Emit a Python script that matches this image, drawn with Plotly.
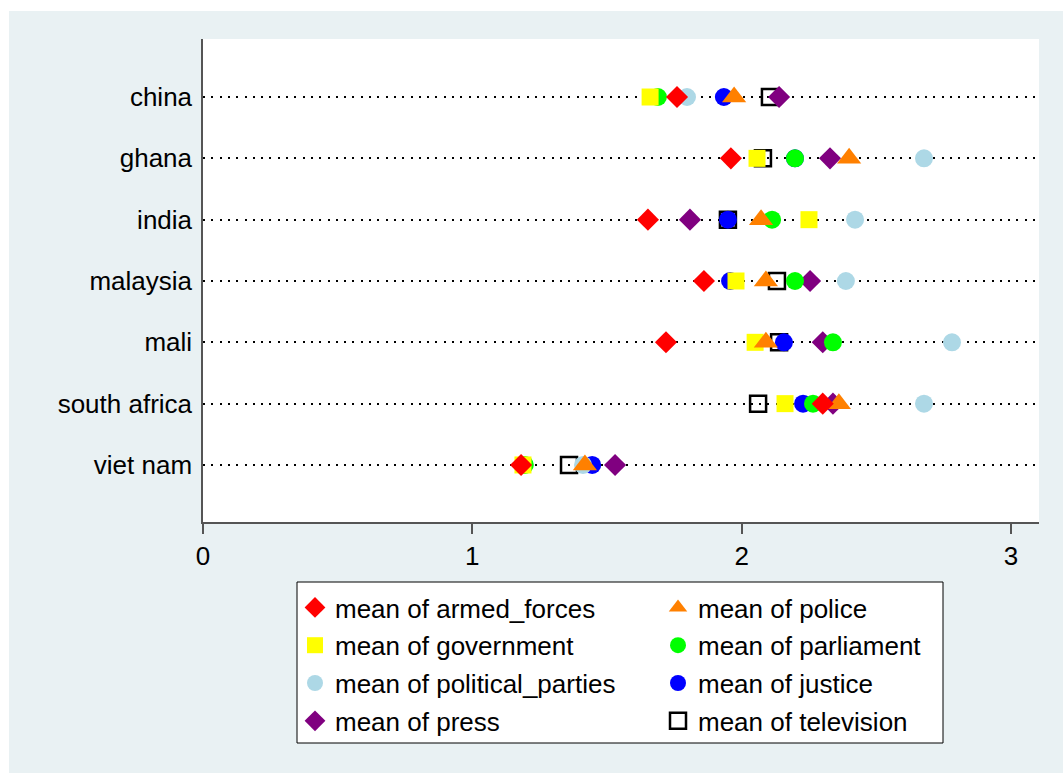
import plotly.graph_objects as go

# Countries, top to bottom
countries = ["china", "ghana", "india", "malaysia", "mali", "south africa", "viet nam"]

# Mean confidence scores per institution
armed_forces = [1.760, 1.960, 1.652, 1.860, 1.719, 2.301, 1.181]
police = [1.972, 2.399, 2.072, 2.090, 2.090, 2.361, 1.418]
government = [1.660, 2.057, 2.250, 1.979, 2.050, 2.161, 1.188]
parliament = [1.689, 2.198, 2.113, 2.198, 2.339, 2.265, 1.195]
political_parties = [1.797, 2.677, 2.421, 2.387, 2.781, 2.677, 1.411]
justice = [1.934, 2.198, 1.949, 1.957, 2.157, 2.228, 1.445]
press = [2.139, 2.328, 1.808, 2.254, 2.301, 2.339, 1.530]
television = [2.105, 2.079, 1.949, 2.131, 2.139, 2.061, 1.359]

x_ticks = [0, 1, 2, 3]

# Page geometry (px)
W, H = 1063, 773
ML, MR, MT, MB = 203, 24, 39, 251
PW = W - ML - MR
PH = H - MT - MB


def px_x(px):
    return (px - ML) / PW


def px_y(py):
    return (H - MB - py) / PH


FONT = "Liberation Sans, Arial, sans-serif"
FS = 26
BG = "#E9F1F3"
AXC = "#555555"

# (label, values, symbol, color, size, legend, rank) - drawn in this order
series = [
    ("television", television, "square-open", "black", 16, "legend2", 4),
    ("press", press, "diamond", "#800080", 17, "legend", 4),
    ("justice", justice, "circle", "#0000FF", 18, "legend2", 3),
    ("political_parties", political_parties, "circle", "#ADD8E6", 18, "legend", 3),
    ("parliament", parliament, "circle", "#00FF00", 18, "legend2", 2),
    ("government", government, "square", "#FFFF00", 17, "legend", 2),
    ("police", police, "triangle-up", "#FF8000", 21, "legend2", 1),
    ("armed_forces", armed_forces, "diamond", "#FF0000", 17, "legend", 1),
]

fig = go.Figure()
ypos = list(range(len(countries)))
for name, vals, sym, col, size, leg, rank in series:
    marker = dict(symbol=sym, color=col, size=size)
    if sym.endswith("open"):
        marker["line"] = dict(color=col, width=2.5)
    else:
        marker["line"] = dict(width=0)
    fig.add_trace(go.Scatter(
        x=vals, y=ypos, mode="markers", name="mean of " + name,
        marker=marker, legend=leg, legendrank=rank, legendgroup=name,
        hoverinfo="x+name",
    ))

shapes = [
    # thin white page border on top and left
    dict(type="rect", xref="paper", yref="paper", layer="below",
         x0=px_x(0), x1=px_x(9), y0=px_y(H), y1=px_y(0),
         fillcolor="white", line=dict(width=0)),
    dict(type="rect", xref="paper", yref="paper", layer="below",
         x0=px_x(0), x1=px_x(W), y0=px_y(11), y1=px_y(0),
         fillcolor="white", line=dict(width=0)),
    # legend frame
    dict(type="rect", xref="paper", yref="paper", layer="below",
         x0=px_x(297), x1=px_x(943), y0=px_y(743), y1=px_y(582),
         fillcolor="white", line=dict(color="black", width=1)),
]

legend_common = dict(
    bgcolor="rgba(0,0,0,0)", borderwidth=0, orientation="v",
    font=dict(family=FONT, size=FS, color="black"),
    traceorder="grouped", tracegroupgap=1, itemsizing="trace",
    xanchor="left", yanchor="top", xref="paper", yref="paper",
)

fig.update_layout(
    width=W, height=H, autosize=False,
    margin=dict(l=ML, r=MR, t=MT, b=MB, pad=0),
    paper_bgcolor=BG, plot_bgcolor="white",
    font=dict(family=FONT, size=FS, color="black"),
    shapes=shapes,
    legend=dict(x=px_x(295), y=px_y(584), **legend_common),
    legend2=dict(x=px_x(658), y=px_y(584), **legend_common),
    xaxis=dict(
        range=[0, 3.104], tickvals=x_ticks, ticktext=[str(t) for t in x_ticks],
        showgrid=False, zeroline=False, showline=True, linecolor=AXC, linewidth=1.5,
        ticks="outside", ticklen=10, tickwidth=1.5, tickcolor=AXC,
        tickfont=dict(family=FONT, size=FS, color="black"),
    ),
    yaxis=dict(
        range=[6.93, -0.946], tickvals=ypos, ticktext=countries,
        showgrid=True, gridcolor="black", gridwidth=2, griddash="2px,6.3px",
        zeroline=False, showline=True, linecolor=AXC, linewidth=1.5,
        ticks="", ticklabelstandoff=4,
        tickfont=dict(family=FONT, size=FS, color="black"),
    ),
)

fig.write_html("out.html")
